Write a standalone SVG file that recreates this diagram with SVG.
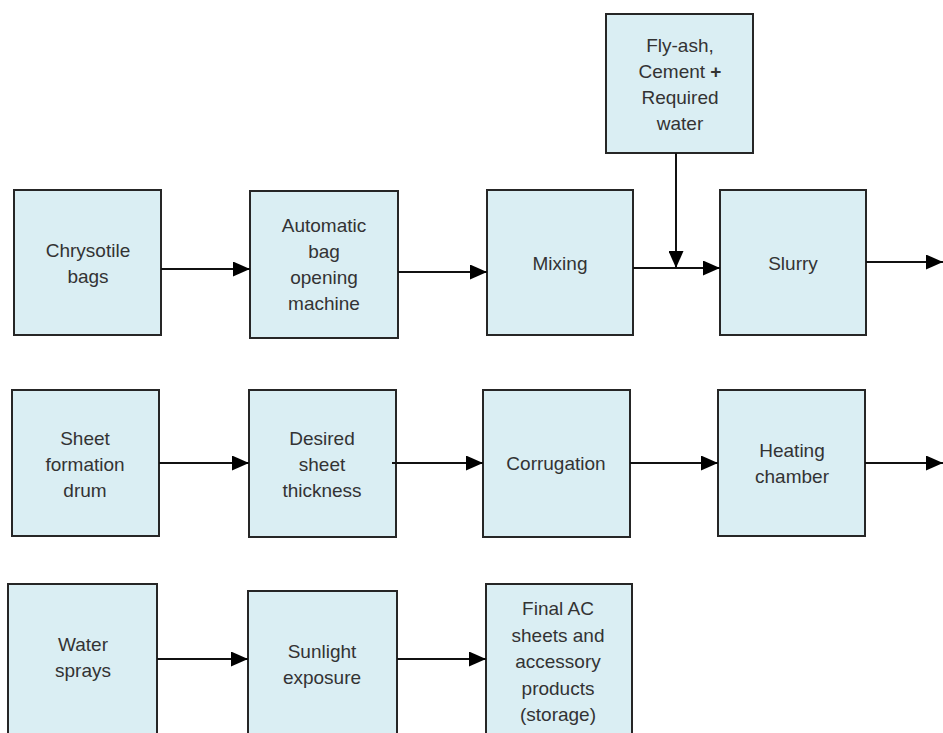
<svg xmlns="http://www.w3.org/2000/svg" width="943" height="733" viewBox="0 0 943 733">
<defs>
<marker id="ah" markerWidth="17" markerHeight="15" refX="17" refY="7.5" orient="auto" markerUnits="userSpaceOnUse">
<path d="M0,0 L17,7.5 L0,15 Z" fill="#000"/>
</marker>
<style>
.box{fill:#DAEEF3;stroke:#262626;stroke-width:2}
.t{font-family:"Liberation Sans",Arial,sans-serif;font-size:19px;fill:#333;text-anchor:middle}
.c{stroke:#111;stroke-width:2;fill:none}
.a{stroke:#111;stroke-width:2;fill:none;marker-end:url(#ah)}
</style>
</defs>
<rect width="943" height="733" fill="#fff"/>
<g id="n1"><rect class="box" x="14" y="190" width="147" height="145"/><text class="t" x="88" y="257">Chrysotile</text><text class="t" x="88" y="283">bags</text></g>
<g id="n2"><rect class="box" x="250" y="191" width="148" height="147"/><text class="t" x="324" y="232">Automatic</text><text class="t" x="324" y="258">bag</text><text class="t" x="324" y="284">opening</text><text class="t" x="324" y="310">machine</text></g>
<g id="n3"><rect class="box" x="487" y="190" width="146" height="145"/><text class="t" x="560" y="270">Mixing</text></g>
<g id="n4"><rect class="box" x="606" y="14" width="147" height="139"/><text class="t" x="680" y="52">Fly-ash,</text><text class="t" x="680" y="78">Cement <tspan font-weight="bold">+</tspan></text><text class="t" x="680" y="104">Required</text><text class="t" x="680" y="130">water</text></g>
<g id="n5"><rect class="box" x="720" y="190" width="146" height="145"/><text class="t" x="793" y="270">Slurry</text></g>
<g id="n6"><rect class="box" x="12" y="390" width="147" height="146"/><text class="t" x="85" y="445">Sheet</text><text class="t" x="85" y="471">formation</text><text class="t" x="85" y="497">drum</text></g>
<g id="n7"><rect class="box" x="249" y="390" width="147" height="147"/><text class="t" x="322" y="445">Desired</text><text class="t" x="322" y="471">sheet</text><text class="t" x="322" y="497">thickness</text></g>
<g id="n8"><rect class="box" x="483" y="390" width="147" height="147"/><text class="t" x="556" y="470">Corrugation</text></g>
<g id="n9"><rect class="box" x="718" y="390" width="147" height="146"/><text class="t" x="792" y="457">Heating</text><text class="t" x="792" y="483">chamber</text></g>
<g id="n10"><rect class="box" x="8" y="584" width="149" height="152"/><text class="t" x="83" y="651">Water</text><text class="t" x="83" y="677">sprays</text></g>
<g id="n11"><rect class="box" x="248" y="591" width="149" height="145"/><text class="t" x="322" y="658">Sunlight</text><text class="t" x="322" y="684">exposure</text></g>
<g id="n12"><rect class="box" x="486" y="584" width="146" height="152"/><text class="t" x="558" y="615">Final AC</text><text class="t" x="558" y="642">sheets and</text><text class="t" x="558" y="668">accessory</text><text class="t" x="558" y="695">products</text><text class="t" x="558" y="721">(storage)</text></g>
<g id="connectors">
<line class="a" x1="161" y1="269" x2="250" y2="269"/>
<line class="a" x1="398" y1="272" x2="487" y2="272"/>
<line class="a" x1="633" y1="268" x2="720" y2="268"/>
<line class="a" x1="676" y1="153" x2="676" y2="268"/>
<line class="a" x1="866" y1="262" x2="943" y2="262"/>
<line class="a" x1="159" y1="463" x2="249" y2="463"/>
<line class="a" x1="392" y1="463" x2="483" y2="463"/>
<line class="a" x1="630" y1="463" x2="718" y2="463"/>
<line class="a" x1="865" y1="463" x2="943" y2="463"/>
<line class="a" x1="157" y1="659" x2="248" y2="659"/>
<line class="a" x1="397" y1="659" x2="486" y2="659"/>
</g>
</svg>
